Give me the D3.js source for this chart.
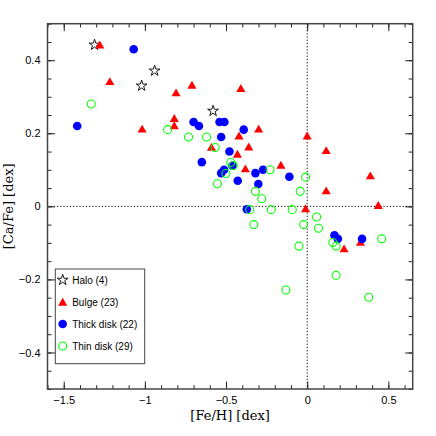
<!DOCTYPE html>
<html>
<head>
<meta charset="utf-8">
<title>[Ca/Fe] vs [Fe/H]</title>
<style>
  body { margin: 0; background: #fff; }
  svg { display: block; }
  .tick text { font-family: 'Liberation Sans', Arial, sans-serif; font-size: 11px; fill: #000; }
  .tick line { stroke: #222; }
  .domain { display: none; }
  .axis-title { font-family: 'DejaVu Serif', 'Liberation Serif', serif; font-size: 13px; }
  .legend text { font-family: 'Liberation Sans', Arial, sans-serif; font-size: 10px; }
</style>
</head>
<body>
<div id="chart"></div>
<script src="https://cdn.jsdelivr.net/npm/d3@7"></script>
<script>

// [Fe/H], [Ca/Fe] pairs
var halo = [[-1.31, 0.442], [-0.94, 0.371], [-1.02, 0.330], [-0.58, 0.261]];

var bulge = [
  [-1.278, 0.442], [-1.216, 0.342], [-1.017, 0.212], [-0.808, 0.311], [-0.710, 0.332],
  [-0.819, 0.241], [-0.819, 0.221], [-0.590, 0.162], [-0.409, 0.323], [-0.299, 0.212],
  [-0.420, 0.193], [-0.360, 0.163], [-0.430, 0.143], [-0.381, 0.103], [-0.162, 0.113],
  [0.000, 0.193], [0.117, 0.153], [0.117, 0.043], [0.389, 0.084], [0.438, 0.003],
  [-0.010, -0.006], [0.227, -0.116], [0.328, -0.098]
];

var thickDisk = [
  [-1.069, 0.430], [-1.417, 0.220], [-0.700, 0.231], [-0.667, 0.220], [-0.649, 0.121],
  [-0.540, 0.231], [-0.510, 0.231], [-0.391, 0.210], [-0.530, 0.190], [-0.479, 0.150],
  [-0.512, 0.100], [-0.530, 0.091], [-0.461, 0.111], [-0.428, 0.070], [-0.319, 0.091],
  [-0.272, 0.100], [-0.301, 0.061], [-0.110, 0.081], [-0.372, -0.008], [0.168, -0.079],
  [0.189, -0.089], [0.338, -0.089]
];

var thinDisk = [
  [-1.331, 0.280], [-0.860, 0.210], [-0.731, 0.190], [-0.620, 0.190], [-0.567, 0.161],
  [-0.553, 0.062], [-0.471, 0.120], [-0.456, 0.112], [-0.501, 0.090], [-0.229, 0.100],
  [-0.010, 0.080], [-0.319, 0.041], [-0.280, 0.021], [-0.043, 0.041], [-0.354, -0.009],
  [-0.221, -0.009], [-0.092, -0.009], [0.058, -0.029], [-0.329, -0.050], [-0.022, -0.050],
  [-0.051, -0.109], [0.070, -0.060], [0.158, -0.099], [0.178, -0.109], [0.459, -0.089],
  [0.178, -0.189], [-0.131, -0.229], [0.379, -0.249]
];

var legendLabels = ["Halo (4)", "Bulge (23)", "Thick disk (22)", "Thin disk (29)"];
var xTicks = [-1.5, -1, -0.5, 0, 0.5];
var yTicks = [-0.4, -0.2, 0, 0.2, 0.4];

var W = 436, H = 436,
    pLeft = 47.5, pRight = 412.7, pTop = 23.7, pBottom = 389;

var x = d3.scaleLinear().domain([-1.6, 0.65]).range([pLeft, pRight]);
var y = d3.scaleLinear().domain([-0.5, 0.5]).range([pBottom, pTop]);

var svg = d3.select("#chart").append("svg")
    .attr("width", W)
    .attr("height", H);

svg.append("rect").attr("width", W).attr("height", H).attr("fill", "#fff");

// dotted zero lines
svg.append("line")
    .attr("x1", x(0)).attr("x2", x(0)).attr("y1", pTop).attr("y2", pBottom)
    .attr("stroke", "#000").attr("stroke-width", 1).attr("stroke-dasharray", "1.2,2");
svg.append("line")
    .attr("x1", pLeft).attr("x2", pRight).attr("y1", y(0)).attr("y2", y(0))
    .attr("stroke", "#000").attr("stroke-width", 1).attr("stroke-dasharray", "1.2,2");

var fmt = d3.format("~f");
var xMinor = d3.range(-16, 7).map(function(d){ return d / 10; });
var yMinor = d3.range(-10, 11).map(function(d){ return d / 20; });

// bottom: major with labels, minor without
svg.append("g").attr("transform", "translate(0," + pBottom + ")")
    .call(d3.axisBottom(x).tickValues(xTicks).tickFormat(fmt).tickSize(-7.5).tickPadding(7.5));
svg.append("g").attr("transform", "translate(0," + pBottom + ")")
    .call(d3.axisBottom(x).tickValues(xMinor).tickFormat("").tickSize(-3.8));
// top
svg.append("g").attr("transform", "translate(0," + pTop + ")")
    .call(d3.axisTop(x).tickValues(xTicks).tickFormat("").tickSize(-7.5));
svg.append("g").attr("transform", "translate(0," + pTop + ")")
    .call(d3.axisTop(x).tickValues(xMinor).tickFormat("").tickSize(-3.8));
// left
svg.append("g").attr("transform", "translate(" + pLeft + ",0)")
    .call(d3.axisLeft(y).tickValues(yTicks).tickFormat(fmt).tickSize(-7.5).tickPadding(7));
svg.append("g").attr("transform", "translate(" + pLeft + ",0)")
    .call(d3.axisLeft(y).tickValues(yMinor).tickFormat("").tickSize(-4));
// right
svg.append("g").attr("transform", "translate(" + pRight + ",0)")
    .call(d3.axisRight(y).tickValues(yTicks).tickFormat("").tickSize(-7.5));
svg.append("g").attr("transform", "translate(" + pRight + ",0)")
    .call(d3.axisRight(y).tickValues(yMinor).tickFormat("").tickSize(-4));

// frame
svg.append("rect")
    .attr("x", pLeft).attr("y", pTop)
    .attr("width", pRight - pLeft).attr("height", pBottom - pTop)
    .attr("fill", "none").attr("stroke", "#444").attr("stroke-width", 1.5);

var star = d3.symbol().type(d3.symbolStar).size(36);
var tri = d3.symbol().type(d3.symbolTriangle).size(36);

// markers: stars, triangles, filled dots, open circles
var plot = svg.append("g");

plot.selectAll(".halo").data(halo).enter().append("path")
    .attr("class", "halo")
    .attr("transform", function(d){ return "translate(" + x(d[0]) + "," + y(d[1]) + ")"; })
    .attr("d", star)
    .attr("fill", "#fff").attr("stroke", "#000").attr("stroke-width", 0.9);

plot.selectAll(".bulge").data(bulge).enter().append("path")
    .attr("class", "bulge")
    .attr("transform", function(d){ return "translate(" + x(d[0]) + "," + (y(d[1]) + 1) + ")"; })
    .attr("d", tri)
    .attr("fill", "#ff0000");

plot.selectAll(".thick").data(thickDisk).enter().append("circle")
    .attr("class", "thick")
    .attr("cx", function(d){ return x(d[0]); })
    .attr("cy", function(d){ return y(d[1]); })
    .attr("r", 4.3)
    .attr("fill", "#0000ff");

plot.selectAll(".thin").data(thinDisk).enter().append("circle")
    .attr("class", "thin")
    .attr("cx", function(d){ return x(d[0]); })
    .attr("cy", function(d){ return y(d[1]); })
    .attr("r", 4)
    .attr("fill", "none").attr("stroke", "#00ff00").attr("stroke-width", 1.1);

// axis titles
svg.append("text").attr("class", "axis-title")
    .attr("x", (pLeft + pRight) / 2).attr("y", 420)
    .attr("text-anchor", "middle")
    .text("[Fe/H] [dex]");
svg.append("text").attr("class", "axis-title")
    .attr("transform", "translate(13," + ((pTop + pBottom) / 2) + ") rotate(-90)")
    .attr("text-anchor", "middle")
    .text("[Ca/Fe] [dex]");

// legend
var lg = svg.append("g").attr("class", "legend");
lg.append("rect")
    .attr("x", 55.3).attr("y", 269)
    .attr("width", 89.4).attr("height", 94.7)
    .attr("fill", "#fff").attr("stroke", "#444").attr("stroke-width", 1);

var rows = lg.selectAll(".row").data(legendLabels).enter().append("g")
    .attr("class", "row")
    .attr("transform", function(d, i){ return "translate(62.7," + (280 + i * 22) + ")"; });

rows.each(function(d, i){
    var g = d3.select(this);
    if (i == 0) g.append("path").attr("d", star).attr("fill", "#fff").attr("stroke", "#000").attr("stroke-width", 0.9);
    if (i == 1) g.append("path").attr("d", tri).attr("transform", "translate(0,1)").attr("fill", "#ff0000");
    if (i == 2) g.append("circle").attr("r", 4.3).attr("fill", "#0000ff");
    if (i == 3) g.append("circle").attr("r", 4).attr("fill", "none").attr("stroke", "#00ff00").attr("stroke-width", 1.1);
});

rows.append("text")
    .attr("x", 9.5).attr("dy", "0.35em")
    .text(function(d){ return d; });

</script>
</body>
</html>
